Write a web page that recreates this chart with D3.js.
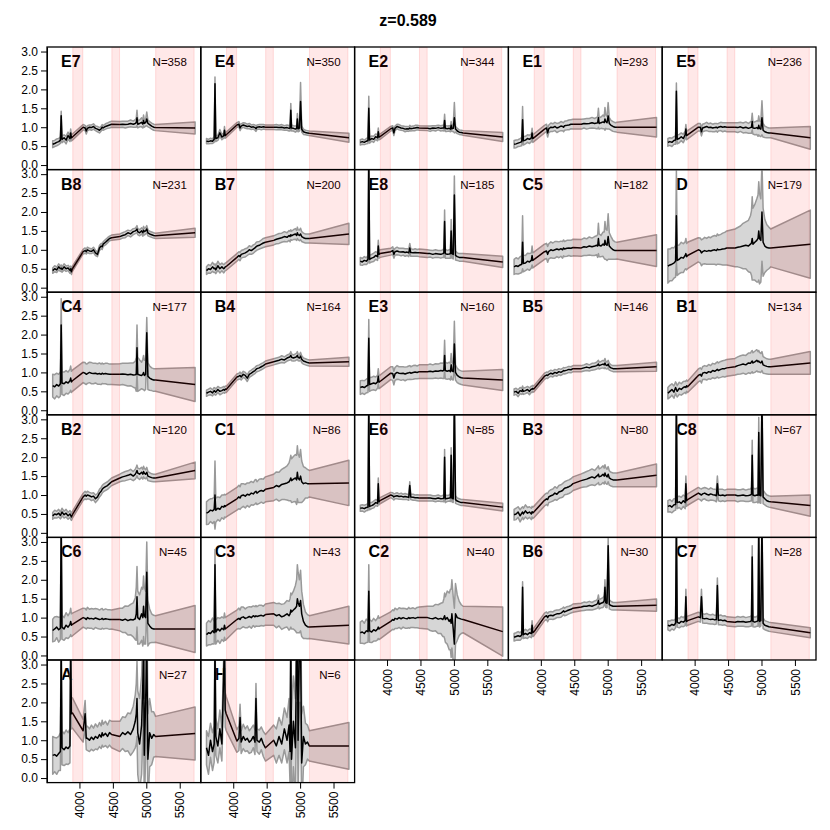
<!DOCTYPE html>
<html><head><meta charset="utf-8">
<script src="https://cdn.jsdelivr.net/npm/d3@7"></script>
<style>
body{margin:0;background:#fff}
svg{display:block}
text{font-family:"Liberation Sans",Arial,Helvetica,sans-serif}
</style>
</head><body>
<svg id="c" width="830" height="830"></svg>
<script>
// ---------------- DATA ----------------
const title = "z=0.589";
const panelNames = ["E7","E4","E2","E1","E5","B8","B7","E8","C5","D","C4","B4","E3","B5","B1","B2","C1","E6","B3","C8","C6","C3","C2","B6","C7","A","H"];
const counts = [358,350,344,293,236,231,200,185,182,179,177,164,160,146,134,120,86,85,80,67,45,43,40,30,28,27,6];
const wavelengths = [3600,3630,3660,3690,3715,3727,3739,3770,3800,3830,3858,3869,3880,3895,
 4055,4085,4102,4119,4150,4180,4210,4240,4270,4300,4325,4340,4355,4390,4420,4450,4482,
 4605,4645,4685,4725,4765,4805,4835,4850,4861,4872,4900,4930,4948,4959,4970,4990,5007,5024,5050,5080,5110,5138,
 5730];
const maskBands = [[3900,4050],[4485,4600],[5140,5715]];
const xTicks = [4000,4500,5000,5500];
const yTicks = [0,0.5,1,1.5,2,2.5,3];

const mean_E7=[0.55,0.57,0.6,0.62,0.66,1.3,0.68,0.72,0.66,0.78,0.7,0.85,0.72,0.74,
 1.0,0.98,0.9,0.97,1.0,0.99,1.02,0.97,0.95,0.92,0.96,1.0,0.98,1.02,1.04,1.06,1.08,
 1.07,1.08,1.07,1.08,1.1,1.08,1.1,1.12,1.25,1.08,1.1,1.13,1.08,1.18,1.1,1.12,1.22,1.1,1.07,1.03,1.0,0.99,0.98];
const err_E7=[.09,.08,.09,.08,.09,.12,.09,.08,.1,.09,.08,.1,.08,.08,
 .07,.07,.08,.07,.06,.07,.07,.06,.07,.07,.06,.07,.06,.07,.07,.08,.08,
 .08,.08,.09,.08,.09,.08,.1,.12,.2,.1,.09,.12,.1,.14,.1,.09,.18,.09,.08,.08,.08,.08,.16];
const mean_E4=[0.63,0.62,0.64,0.63,0.68,2.15,0.7,0.72,0.85,0.74,0.78,0.92,0.78,0.8,
 1.06,1.08,0.98,1.03,1.06,1.04,1.02,1.03,1.0,1.01,0.99,0.96,1.0,1.01,1.0,1.01,1.0,
 1.0,1.0,0.99,1.0,0.98,0.99,0.97,0.98,1.45,0.98,0.97,0.95,0.97,1.22,0.96,0.98,1.68,0.95,0.88,0.86,0.85,0.84,0.72];
const err_E4=[.07,.06,.07,.06,.08,.18,.08,.07,.09,.07,.07,.1,.07,.07,
 .06,.07,.07,.06,.06,.07,.06,.07,.06,.06,.07,.07,.06,.06,.07,.06,.06,
 .06,.07,.06,.07,.06,.07,.07,.08,.18,.08,.07,.08,.08,.14,.08,.08,.5,.08,.07,.06,.06,.06,.12];
const mean_E2=[0.6,0.62,0.6,0.63,0.65,1.5,0.66,0.7,0.68,0.75,0.72,0.88,0.74,0.75,
 0.96,0.98,0.85,0.97,1.02,1.0,0.98,0.97,0.95,0.96,0.95,0.98,0.96,0.97,0.98,0.99,0.98,
 0.97,0.96,0.98,0.97,0.99,0.97,0.98,0.98,1.18,0.97,0.96,0.97,0.95,1.05,0.96,0.97,1.25,0.95,0.9,0.87,0.86,0.85,0.74];
const err_E2=[.07,.07,.06,.07,.08,.32,.08,.07,.08,.07,.08,.1,.07,.07,
 .06,.06,.07,.06,.06,.07,.06,.06,.07,.06,.06,.07,.06,.06,.07,.06,.06,
 .06,.07,.06,.07,.06,.07,.07,.08,.16,.08,.07,.07,.07,.1,.07,.08,.4,.08,.07,.06,.06,.06,.12];
const mean_E1=[0.55,0.56,0.58,0.6,0.62,1.2,0.64,0.66,0.7,0.68,0.72,0.85,0.7,0.72,
 0.95,0.98,0.85,0.96,1.0,0.99,1.02,0.98,1.0,1.03,1.02,1.0,1.04,1.05,1.06,1.08,1.08,
 1.08,1.1,1.09,1.1,1.12,1.1,1.11,1.12,1.25,1.1,1.12,1.14,1.12,1.22,1.15,1.12,1.3,1.1,1.05,1.02,1.0,1.0,1.0];
const err_E1=[.1,.1,.09,.1,.11,.35,.11,.1,.1,.11,.1,.12,.1,.1,
 .1,.1,.11,.1,.11,.1,.11,.12,.11,.12,.11,.12,.12,.12,.13,.12,.13,
 .13,.12,.14,.13,.14,.13,.15,.16,.25,.15,.15,.18,.16,.3,.18,.17,.35,.15,.13,.13,.12,.13,.26];
const mean_E5=[0.6,0.62,0.6,0.65,0.66,1.95,0.68,0.7,0.75,0.7,0.8,0.95,0.78,0.8,
 1.0,1.0,0.88,0.98,1.0,1.02,0.99,1.0,0.98,0.99,1.0,0.98,1.0,1.02,1.0,1.01,1.0,
 1.0,0.99,1.01,0.98,1.0,0.97,0.99,1.0,1.15,0.98,0.97,0.99,0.96,1.05,0.97,0.95,1.25,0.92,0.88,0.86,0.85,0.85,0.72];
const err_E5=[.1,.1,.11,.1,.11,.22,.12,.11,.1,.11,.1,.12,.11,.11,
 .1,.1,.11,.1,.1,.11,.1,.11,.1,.11,.1,.11,.1,.11,.12,.11,.12,
 .12,.13,.12,.13,.14,.13,.15,.16,.22,.16,.17,.18,.2,.25,.2,.2,.45,.18,.15,.14,.13,.13,.3];
const mean_B8=[0.45,0.5,0.47,0.55,0.5,0.52,0.48,0.55,0.5,0.52,0.46,0.5,0.42,0.5,
 0.95,0.98,0.95,1.0,0.97,0.96,1.0,0.92,0.88,1.05,1.1,1.08,1.15,1.2,1.25,1.3,1.32,
 1.35,1.38,1.4,1.45,1.42,1.48,1.5,1.52,1.55,1.48,1.45,1.5,1.45,1.52,1.48,1.5,1.55,1.45,1.42,1.4,1.38,1.37,1.45];
const err_B8=[.07,.08,.07,.08,.07,.08,.07,.08,.07,.07,.08,.07,.07,.07,
 .06,.07,.06,.07,.07,.06,.07,.07,.06,.07,.07,.07,.06,.07,.07,.06,.07,
 .07,.07,.08,.07,.08,.08,.07,.08,.09,.08,.08,.08,.09,.1,.09,.08,.09,.08,.07,.07,.07,.07,.12];
const mean_B7=[0.45,0.5,0.48,0.55,0.5,0.52,0.47,0.58,0.5,0.55,0.5,0.52,0.55,0.56,
 0.8,0.85,0.82,0.88,0.9,0.92,0.95,1.0,0.98,1.02,1.05,1.08,1.1,1.12,1.15,1.18,1.2,
 1.25,1.28,1.3,1.32,1.35,1.33,1.38,1.35,1.4,1.37,1.4,1.42,1.38,1.45,1.4,1.38,1.42,1.35,1.32,1.3,1.3,1.3,1.42];
const err_B7=[.1,.11,.1,.12,.1,.11,.1,.12,.11,.1,.11,.1,.1,.1,
 .1,.1,.11,.1,.1,.11,.1,.11,.1,.11,.1,.11,.11,.1,.11,.12,.12,
 .12,.12,.13,.12,.13,.12,.13,.14,.13,.12,.13,.14,.13,.15,.13,.14,.15,.13,.12,.12,.12,.12,.28];
const mean_E8=[0.7,0.68,0.72,0.7,0.75,3.5,0.75,0.78,0.8,0.85,0.82,1.1,0.88,0.9,
 0.95,0.98,0.88,0.95,0.97,0.95,0.94,0.95,0.93,0.94,0.92,1.05,0.93,0.92,0.93,0.92,0.92,
 0.9,0.9,0.88,0.9,0.89,0.88,0.9,0.92,1.75,0.9,0.88,0.89,0.9,1.5,0.9,0.88,2.45,0.85,0.82,0.8,0.8,0.8,0.68];
const err_E8=[.1,.09,.1,.09,.1,.6,.1,.1,.11,.1,.1,.15,.1,.1,
 .09,.1,.1,.09,.1,.09,.1,.09,.1,.09,.1,.12,.1,.09,.1,.09,.1,
 .1,.09,.1,.1,.09,.1,.1,.12,.3,.12,.1,.11,.12,.3,.12,.12,.5,.12,.1,.1,.1,.1,.15];
const mean_C5=[0.55,0.58,0.56,0.6,0.62,1.2,0.64,0.65,0.7,0.68,0.72,0.85,0.72,0.74,
 0.95,0.97,0.88,0.96,1.0,0.98,1.0,1.02,1.0,1.03,1.0,1.05,1.02,1.04,1.05,1.04,1.06,
 1.05,1.08,1.07,1.1,1.08,1.1,1.12,1.1,1.3,1.12,1.1,1.15,1.12,1.25,1.15,1.12,1.35,1.1,1.05,1.0,0.98,0.98,0.98];
const err_C5=[.2,.21,.2,.22,.22,.7,.22,.2,.21,.22,.2,.25,.2,.2,
 .2,.2,.21,.2,.21,.2,.22,.2,.21,.2,.22,.21,.2,.21,.2,.21,.22,
 .22,.23,.22,.24,.23,.25,.25,.3,.4,.3,.28,.32,.35,.5,.4,.4,.6,.35,.3,.25,.23,.22,.42];
const mean_D=[0.57,0.6,0.62,0.65,0.7,1.9,0.72,0.75,0.8,0.78,0.85,0.9,0.82,0.85,
 1.0,0.98,0.92,0.95,0.98,0.96,0.98,0.97,0.99,1.0,0.98,1.02,1.0,1.01,1.02,1.03,1.05,
 1.05,1.07,1.08,1.1,1.12,1.1,1.15,1.18,1.3,1.15,1.2,1.25,1.3,1.5,1.3,1.25,2.0,1.2,1.1,1.06,1.05,1.05,1.15];
const err_D=[.45,.42,.44,.4,.42,1.2,.4,.38,.4,.38,.36,.4,.35,.35,
 .32,.33,.34,.33,.35,.34,.36,.35,.37,.38,.38,.4,.38,.4,.42,.43,.45,
 .5,.52,.55,.6,.62,.68,.75,.85,1.1,.95,1.0,1.1,1.15,1.3,1.2,1.1,1.3,.9,.7,.6,.55,.5,.9];
const mean_C4=[0.65,0.62,0.68,0.64,0.7,2.25,0.72,0.7,0.75,0.72,0.78,0.85,0.75,0.78,
 1.0,0.98,0.95,0.97,1.0,0.98,0.97,0.98,0.96,0.97,0.95,0.98,0.96,0.97,0.96,0.95,0.95,
 0.95,0.96,0.95,0.94,0.95,0.93,0.94,0.95,1.65,0.95,0.93,0.92,0.95,1.0,0.92,0.95,2.05,0.9,0.85,0.82,0.8,0.8,0.68];
const err_C4=[.3,.32,.3,.31,.32,.7,.3,.31,.3,.29,.3,.32,.28,.28,
 .27,.28,.27,.26,.27,.28,.27,.26,.27,.28,.27,.27,.26,.27,.28,.27,.27,
 .28,.28,.29,.3,.3,.32,.35,.45,.6,.45,.4,.35,.4,.45,.4,.4,.4,.35,.32,.3,.3,.3,.45];
const mean_B4=[0.45,0.48,0.5,0.46,0.52,0.5,0.48,0.55,0.5,0.52,0.55,0.53,0.56,0.55,
 0.88,0.9,0.92,0.88,0.95,0.92,0.85,0.95,0.98,1.02,1.05,1.08,1.1,1.12,1.15,1.18,1.22,
 1.28,1.3,1.32,1.35,1.33,1.38,1.4,1.42,1.45,1.4,1.38,1.4,1.42,1.45,1.4,1.38,1.43,1.35,1.3,1.28,1.26,1.25,1.28];
const err_B4=[.08,.08,.09,.08,.08,.09,.08,.08,.09,.08,.08,.08,.08,.08,
 .08,.08,.09,.08,.08,.08,.09,.08,.08,.08,.08,.08,.08,.08,.08,.08,.08,
 .08,.08,.08,.09,.08,.08,.08,.09,.1,.09,.08,.09,.09,.1,.09,.08,.1,.09,.08,.08,.08,.08,.12];
const mean_E3=[0.6,0.62,0.6,0.64,0.66,1.9,0.68,0.7,0.72,0.7,0.75,0.9,0.74,0.76,
 0.98,0.97,0.85,0.96,1.0,0.98,0.97,0.98,0.96,0.98,0.99,1.0,0.98,1.0,1.01,1.0,1.02,
 1.02,1.03,1.02,1.04,1.03,1.05,1.04,1.06,1.45,1.05,1.03,1.05,1.02,1.2,1.04,1.02,1.75,1.0,0.92,0.88,0.86,0.85,0.8];
const err_E3=[.18,.17,.18,.18,.19,.5,.18,.17,.18,.18,.17,.2,.17,.17,
 .17,.18,.18,.17,.18,.17,.18,.17,.18,.17,.18,.18,.17,.18,.18,.17,.18,
 .18,.19,.18,.19,.19,.2,.2,.22,.4,.22,.21,.22,.22,.3,.22,.22,.6,.2,.19,.18,.18,.18,.28];
const mean_B5=[0.48,0.5,0.45,0.52,0.5,0.55,0.5,0.52,0.55,0.5,0.56,0.55,0.58,0.56,
 0.9,0.93,0.92,0.95,0.98,0.96,1.0,0.98,1.02,1.0,1.03,1.05,1.04,1.06,1.08,1.07,1.1,
 1.1,1.12,1.14,1.12,1.15,1.16,1.18,1.2,1.22,1.18,1.2,1.22,1.2,1.25,1.2,1.18,1.22,1.15,1.12,1.1,1.1,1.1,1.15];
const err_B5=[.08,.08,.09,.08,.08,.09,.08,.08,.08,.09,.08,.08,.08,.08,
 .08,.08,.08,.08,.08,.08,.08,.08,.08,.08,.08,.08,.08,.08,.08,.08,.08,
 .08,.08,.09,.08,.09,.09,.09,.1,.1,.09,.09,.1,.1,.12,.1,.09,.1,.09,.08,.08,.08,.08,.12];
const mean_B1=[0.45,0.5,0.55,0.48,0.6,0.55,0.5,0.58,0.55,0.6,0.62,0.6,0.65,0.62,
 0.92,0.95,0.9,0.98,1.0,0.98,1.02,1.0,1.05,1.03,1.06,1.08,1.05,1.08,1.1,1.1,1.12,
 1.15,1.18,1.2,1.22,1.2,1.25,1.24,1.28,1.3,1.25,1.28,1.32,1.28,1.3,1.27,1.25,1.3,1.2,1.18,1.16,1.15,1.15,1.25];
const err_B1=[.15,.16,.15,.16,.15,.16,.15,.16,.15,.16,.15,.16,.15,.15,
 .17,.17,.18,.17,.18,.18,.19,.18,.19,.19,.2,.2,.2,.21,.21,.22,.22,
 .22,.23,.24,.24,.25,.26,.27,.28,.28,.27,.28,.28,.27,.28,.26,.25,.25,.22,.21,.2,.2,.2,.3];
const mean_B2=[0.45,0.5,0.48,0.52,0.46,0.5,0.55,0.48,0.52,0.45,0.5,0.46,0.42,0.48,
 0.95,1.0,0.97,1.0,0.98,0.95,0.97,0.9,0.95,1.05,1.1,1.15,1.18,1.22,1.25,1.3,1.35,
 1.45,1.48,1.5,1.52,1.55,1.5,1.55,1.6,1.65,1.58,1.55,1.6,1.55,1.62,1.58,1.55,1.6,1.5,1.48,1.46,1.45,1.45,1.65];
const err_B2=[.09,.1,.09,.1,.09,.1,.1,.09,.1,.09,.09,.1,.09,.09,
 .09,.1,.09,.1,.09,.1,.09,.1,.09,.1,.1,.1,.1,.1,.1,.1,.1,
 .1,.11,.12,.12,.13,.12,.13,.14,.14,.13,.14,.13,.13,.14,.13,.12,.13,.12,.11,.1,.1,.1,.22];
const mean_C1=[0.52,0.55,0.6,0.58,0.62,1.0,0.6,0.65,0.62,0.7,0.68,0.72,0.7,0.72,
 0.9,0.95,0.92,0.98,1.0,0.97,1.02,1.0,1.05,1.03,1.08,1.1,1.05,1.1,1.12,1.1,1.15,
 1.2,1.25,1.22,1.28,1.3,1.32,1.35,1.4,1.45,1.38,1.42,1.45,1.4,1.6,1.45,1.4,1.5,1.35,1.3,1.32,1.3,1.3,1.32];
const err_C1=[.3,.32,.3,.33,.32,.9,.32,.3,.31,.3,.32,.3,.3,.3,
 .3,.31,.3,.32,.3,.31,.3,.32,.31,.3,.32,.31,.3,.32,.31,.32,.33,
 .35,.36,.38,.4,.42,.45,.5,.55,.6,.58,.6,.62,.65,.7,.65,.6,.7,.55,.45,.4,.38,.35,.6];
const mean_E6=[0.65,0.66,0.64,0.67,0.68,3.5,0.7,0.72,0.75,0.8,0.78,1.3,0.82,0.85,
 1.0,0.98,0.95,0.97,0.98,0.96,0.97,0.95,0.96,0.95,0.94,1.25,0.95,0.94,0.93,0.93,0.92,
 0.92,0.92,0.91,0.9,0.92,0.9,0.91,0.92,2.0,0.9,0.91,0.92,0.93,2.05,0.92,0.9,3.5,0.88,0.84,0.82,0.8,0.8,0.68];
const err_E6=[.08,.08,.09,.08,.09,.3,.09,.08,.09,.08,.08,.15,.08,.08,
 .07,.08,.08,.07,.08,.07,.08,.07,.08,.07,.08,.1,.07,.08,.07,.08,.08,
 .08,.08,.07,.08,.08,.07,.08,.1,.2,.1,.08,.08,.1,.2,.1,.1,.3,.1,.08,.08,.08,.08,.1];
const mean_B3=[0.48,0.5,0.55,0.45,0.52,0.55,0.5,0.58,0.52,0.55,0.5,0.56,0.53,0.55,
 0.86,0.9,0.88,0.95,0.98,1.0,1.05,1.02,1.08,1.1,1.12,1.15,1.18,1.2,1.22,1.25,1.3,
 1.38,1.4,1.42,1.45,1.48,1.45,1.5,1.52,1.55,1.48,1.5,1.55,1.5,1.58,1.52,1.48,1.55,1.45,1.42,1.4,1.4,1.4,1.52];
const err_B3=[.14,.15,.14,.16,.15,.14,.15,.16,.15,.14,.15,.14,.15,.15,
 .15,.15,.16,.15,.16,.16,.17,.16,.17,.17,.18,.18,.17,.18,.18,.18,.18,
 .18,.19,.2,.2,.21,.2,.21,.22,.22,.21,.22,.22,.21,.22,.21,.2,.2,.19,.18,.18,.18,.18,.3];
const mean_C8=[0.7,0.72,0.68,0.74,0.75,3.5,0.8,0.82,0.78,0.85,0.8,1.3,0.85,0.88,
 1.05,1.02,1.0,1.03,1.05,1.02,1.0,1.03,1.01,1.0,0.98,1.3,1.0,0.99,1.0,0.98,1.0,
 1.0,0.98,0.99,1.0,0.98,0.99,1.0,1.02,2.05,1.0,0.98,1.0,0.99,2.65,1.0,0.98,3.5,0.95,0.9,0.85,0.83,0.82,0.72];
const err_C8=[.15,.16,.15,.16,.15,.3,.16,.15,.16,.15,.16,.2,.15,.15,
 .15,.15,.16,.15,.15,.16,.15,.16,.15,.15,.16,.2,.15,.16,.15,.15,.15,
 .15,.16,.15,.16,.15,.16,.16,.18,.4,.2,.18,.18,.2,.4,.2,.2,.4,.18,.16,.15,.15,.15,.28];
const mean_C6=[0.66,0.7,0.75,0.68,0.72,3.5,0.75,0.7,0.8,0.75,0.82,0.9,0.8,0.82,
 1.0,0.98,0.95,1.0,0.97,0.98,0.96,0.99,0.97,0.95,0.96,0.98,0.95,0.97,0.96,0.95,0.95,
 0.95,0.93,0.96,0.92,0.95,0.94,0.97,1.1,1.55,1.0,0.95,1.1,1.0,1.3,1.05,1.0,2.2,0.85,0.78,0.72,0.7,0.7,0.7];
const err_C6=[.3,.32,.28,.33,.3,.4,.32,.3,.33,.3,.32,.35,.3,.3,
 .25,.26,.25,.27,.25,.26,.27,.25,.26,.25,.27,.26,.25,.26,.25,.26,.25,
 .3,.32,.35,.38,.4,.45,.55,.7,.8,.7,.65,.7,.75,.8,.75,.7,.8,.6,.45,.38,.36,.35,.62];
const mean_C3=[0.55,0.6,0.58,0.65,0.6,2.4,0.62,0.7,0.65,0.72,0.68,0.8,0.7,0.72,
 0.95,0.98,0.95,1.0,1.02,0.98,1.0,1.03,1.0,1.05,1.02,1.05,1.03,1.05,1.06,1.04,1.08,
 1.1,1.05,1.08,1.02,1.05,1.1,1.05,1.1,1.2,1.15,1.2,1.25,1.3,1.5,1.4,1.3,1.45,1.1,0.9,0.8,0.76,0.75,0.8];
const err_C3=[.3,.32,.3,.34,.3,.4,.32,.3,.33,.3,.31,.32,.3,.3,
 .25,.27,.25,.28,.26,.25,.27,.26,.28,.26,.27,.27,.26,.28,.27,.26,.28,
 .3,.32,.3,.33,.32,.35,.38,.4,.45,.45,.5,.6,.7,.9,.8,.7,.8,.6,.45,.35,.32,.3,.5];
const mean_C2=[0.6,0.62,0.58,0.65,0.63,1.7,0.65,0.62,0.68,0.65,0.7,0.75,0.7,0.72,
 0.9,0.95,0.93,0.98,0.96,1.0,0.97,1.0,0.98,0.97,1.0,0.98,0.99,1.0,0.98,1.0,1.0,
 1.0,0.98,0.97,1.0,0.96,0.98,0.95,1.0,1.05,0.95,1.0,0.9,0.95,0.85,1.1,0.7,0.3,1.1,1.0,0.98,0.96,0.95,0.63];
const err_C2=[.28,.3,.27,.31,.28,.7,.3,.28,.3,.27,.29,.3,.28,.28,
 .25,.26,.25,.27,.25,.26,.27,.25,.26,.25,.27,.26,.25,.26,.25,.27,.28,
 .3,.32,.33,.35,.38,.4,.45,.5,.6,.6,.7,.75,.8,.9,.9,.85,.95,.8,.6,.45,.38,.35,.65];
const mean_B6=[0.48,0.5,0.52,0.5,0.55,1.8,0.55,0.58,0.55,0.6,0.58,0.8,0.6,0.62,
 1.02,1.05,1.0,1.05,1.06,1.05,1.08,1.1,1.1,1.12,1.15,1.18,1.15,1.18,1.2,1.22,1.25,
 1.28,1.3,1.3,1.32,1.3,1.33,1.35,1.38,1.45,1.35,1.38,1.4,1.45,1.8,1.4,1.38,2.9,1.35,1.32,1.3,1.3,1.3,1.33];
const err_B6=[.1,.1,.11,.1,.1,.15,.1,.11,.1,.1,.11,.12,.1,.1,
 .1,.1,.11,.1,.1,.1,.11,.1,.1,.11,.1,.1,.1,.11,.1,.1,.11,
 .1,.11,.1,.11,.1,.11,.11,.12,.15,.12,.12,.13,.13,.2,.13,.12,.2,.12,.11,.1,.1,.1,.16];
const mean_C7=[0.8,0.78,0.82,0.8,0.85,3.5,0.88,0.85,0.9,0.88,0.92,1.55,0.9,0.92,
 1.02,1.0,1.55,0.98,0.97,0.98,0.96,0.95,0.96,0.94,0.95,1.85,0.93,0.94,0.92,0.93,0.9,
 0.88,0.9,0.89,0.9,0.88,0.89,0.9,0.92,2.6,0.9,0.88,0.9,0.92,3.5,0.9,0.92,3.5,0.85,0.8,0.78,0.76,0.75,0.6];
const err_C7=[.12,.13,.12,.13,.12,.4,.13,.12,.13,.12,.13,.2,.12,.12,
 .12,.12,.2,.12,.12,.13,.12,.12,.13,.12,.12,.2,.12,.13,.12,.12,.12,
 .12,.13,.12,.13,.12,.13,.13,.14,.3,.14,.13,.13,.15,.3,.15,.14,.3,.14,.12,.12,.12,.12,.13];
const mean_A=[0.6,0.62,0.58,0.65,0.7,3.5,0.8,0.75,0.82,0.78,0.85,3.5,1.7,1.72,
 1.25,1.7,1.05,1.05,1.0,1.08,1.02,1.1,1.05,1.15,1.08,1.2,1.12,1.18,1.1,1.2,1.15,
 1.1,1.2,1.15,1.22,1.15,1.3,1.5,1.7,2.1,1.2,0.9,1.4,2.5,3.5,0.6,2.0,3.5,0.5,1.2,1.05,1.15,1.1,1.18];
const err_A=[.5,.45,.48,.45,.5,.5,.45,.42,.45,.42,.45,.5,.4,.4,
 .3,.35,.3,.32,.3,.32,.3,.33,.3,.32,.3,.33,.3,.32,.3,.33,.35,
 .4,.42,.45,.5,.55,.6,.7,.8,1.0,1.1,1.2,1.3,1.4,1.5,1.5,1.4,1.5,1.2,.9,.7,.6,.53,.7];
const mean_H=[0.8,0.6,1.0,0.7,0.9,3.5,1.1,0.85,1.3,0.9,2.8,3.5,1.8,1.7,
 0.98,1.05,1.6,0.95,1.1,1.0,1.05,0.95,1.0,1.1,0.95,2.1,1.0,0.95,1.05,0.9,0.8,
 1.0,0.85,1.1,0.9,1.3,1.0,1.4,0.7,3.5,0.5,1.5,0.8,3.5,3.5,1.0,3.5,3.5,0.4,1.1,0.9,0.95,0.85,0.85];
const err_H=[.45,.5,.45,.5,.48,.6,.5,.45,.5,.45,.5,.6,.45,.45,
 .3,.32,.35,.3,.32,.3,.33,.3,.32,.3,.33,.4,.3,.32,.3,.33,.35,
 .4,.45,.5,.5,.55,.6,.7,.9,1.2,1.3,1.2,1.3,1.5,1.5,1.5,1.5,1.5,1.3,.8,.55,.45,.4,.62];

// lookup tables built from the named arrays
const meanData = {E7:mean_E7,E4:mean_E4,E2:mean_E2,E1:mean_E1,E5:mean_E5,B8:mean_B8,B7:mean_B7,E8:mean_E8,C5:mean_C5,D:mean_D,
 C4:mean_C4,B4:mean_B4,E3:mean_E3,B5:mean_B5,B1:mean_B1,B2:mean_B2,C1:mean_C1,E6:mean_E6,B3:mean_B3,C8:mean_C8,
 C6:mean_C6,C3:mean_C3,C2:mean_C2,B6:mean_B6,C7:mean_C7,A:mean_A,H:mean_H};
const errData = {E7:err_E7,E4:err_E4,E2:err_E2,E1:err_E1,E5:err_E5,B8:err_B8,B7:err_B7,E8:err_E8,C5:err_C5,D:err_D,
 C4:err_C4,B4:err_B4,E3:err_E3,B5:err_B5,B1:err_B1,B2:err_B2,C1:err_C1,E6:err_E6,B3:err_B3,C8:err_C8,
 C6:err_C6,C3:err_C3,C2:err_C2,B6:err_B6,C7:err_C7,A:err_A,H:err_H};

// ---------------- LAYOUT ----------------
const W = 830, H = 830;
const nCols = 5;
const plotLeft = 47, plotTop = 47, panelW = 153.8, panelH = 122.6;

const svg = d3.select("#c");
svg.append("rect").attr("width",W).attr("height",H).attr("fill","#fff");

svg.append("text").attr("x",408).attr("y",26).attr("text-anchor","middle")
  .attr("font-weight","bold").attr("font-size",16).text(title);

const x = d3.scaleLinear().domain([3514.8, 5815.2]).range([0, panelW]);
const y = d3.scaleLinear().domain([-0.12, 3.12]).range([panelH, 0]);
const idx = d3.range(wavelengths.length);
const nPanels = panelNames.length;

panelNames.forEach((name, i) => {
  const col = i % nCols, row = Math.floor(i / nCols);
  const g = svg.append("g").attr("transform", `translate(${plotLeft + col*panelW},${plotTop + row*panelH})`);
  const m = meanData[name], e = errData[name];

  g.append("clipPath").attr("id", "clip"+i).append("rect")
    .attr("width", panelW).attr("height", panelH);

  // labels (underneath the data)
  g.append("text").attr("x", 14).attr("y", 20).attr("font-weight","bold")
    .attr("font-size", 16).attr("fill","#000").text(name);
  g.append("text").attr("x", panelW - 14).attr("y", 19).attr("text-anchor","end")
    .attr("font-size", 11.5).attr("fill","#000").text("N=" + counts[i]);

  const plot = g.append("g").attr("clip-path", `url(#clip${i})`);

  const area = d3.area()
    .x(j => x(wavelengths[j]))
    .y0(j => y(m[j] - e[j]))
    .y1(j => y(m[j] + e[j]));
  plot.append("path").datum(idx).attr("d", area)
    .attr("fill", "#d6d6d6").attr("stroke", "#999999").attr("stroke-width", 1.5)
    .attr("stroke-linejoin","round");

  const line = d3.line().x(j => x(wavelengths[j])).y(j => y(m[j]));
  plot.append("path").datum(idx).attr("d", line)
    .attr("fill", "none").attr("stroke", "#000").attr("stroke-width", 1.5)
    .attr("stroke-linejoin","round");

  // masked wavelength bands (transparent red on top)
  plot.selectAll("rect.band").data(maskBands).enter().append("rect")
    .attr("class","band")
    .attr("x", b => x(b[0])).attr("width", b => x(b[1]) - x(b[0]))
    .attr("y", 0).attr("height", panelH)
    .attr("fill", "rgba(255,0,0,0.09)")
    .attr("stroke", "rgba(255,40,40,0.14)").attr("stroke-width", 1);

  g.append("rect").attr("width", panelW).attr("height", panelH)
    .attr("fill","none").attr("stroke","#000").attr("stroke-width",1.3);

  if (col === 0) {
    const ax = g.append("g").call(d3.axisLeft(y).tickValues(yTicks)
      .tickFormat(d3.format(".1f")).tickSize(6).tickSizeOuter(0).tickPadding(3));
    ax.select(".domain").attr("stroke","#000");
    ax.selectAll("text").attr("font-size",12).attr("font-family",'"Liberation Sans",Arial,sans-serif').attr("fill","#000");
  }
  if (i + nCols >= nPanels) {
    const ax = g.append("g").attr("transform", `translate(0,${panelH})`)
      .call(d3.axisBottom(x).tickValues(xTicks).tickFormat(d3.format("d")).tickSize(6).tickSizeOuter(0));
    ax.select(".domain").remove();
    ax.selectAll("text")
      .attr("transform","rotate(-90)")
      .attr("x", -9).attr("y", 0).attr("dy", "0.35em")
      .attr("text-anchor","end")
      .attr("font-size",12).attr("font-family",'"Liberation Sans",Arial,sans-serif').attr("fill","#000");
  }
});
</script>
</body></html>
